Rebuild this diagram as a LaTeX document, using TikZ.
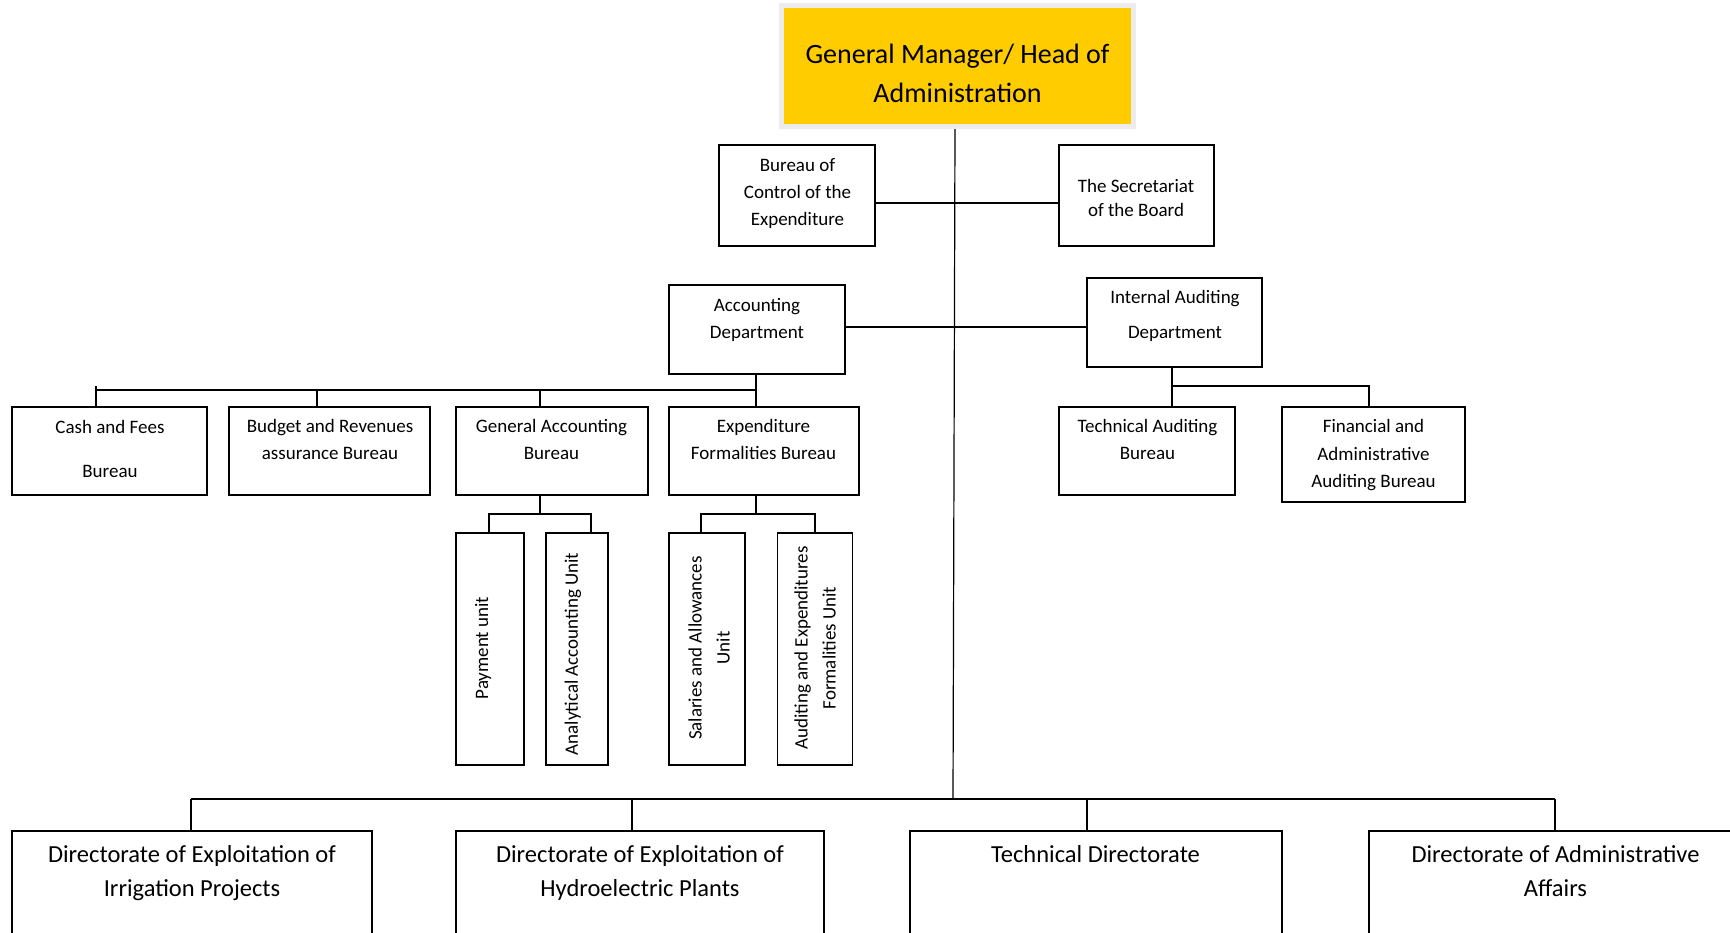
\documentclass[tikz,border=0pt]{standalone}
\usepackage{fontspec}
\setmainfont{Carlito}
\definecolor{gmyellow}{RGB}{255,204,0}
\definecolor{gmframe}{RGB}{236,236,236}
\begin{document}
\begin{tikzpicture}[x=1pt,y=-1pt,
  box/.style={draw=black, line width=1.2pt, inner sep=0pt},
  conn/.style={draw=black, line width=1.2pt},
  txt/.style={align=center, inner sep=0pt, text=black},
  ttop/.style={txt, font=\fontsize{28}{39}\selectfont},
  tmid/.style={txt, font=\fontsize{19}{27}\selectfont},
  tbig/.style={txt, font=\fontsize{24.5}{34}\selectfont}]
\fill[white] (0,0) rectangle (1730,932);
\clip (0,0) rectangle (1730,932);

% ---- top
\node[fill=gmframe, inner sep=0pt, minimum width=357pt, minimum height=126pt] (gmf) at (957.5,66) {};
\node[fill=gmyellow, inner sep=0pt, minimum width=347pt, minimum height=116pt] (gm) at (957.5,66) {};
\node[ttop] (gmt) at (957.5,75.5) {\strut General Manager/ Head of\\Administration\strut};

% ---- second level
\node[box, minimum width=156pt, minimum height=101pt] (boc) at (797,195.5) {};
\node[tmid] (boct) at (797.5,193) {\strut Bureau of\\Control of the\\Expenditure\strut};
\node[box, minimum width=155pt, minimum height=101pt] (sec) at (1136.5,195.5) {};
\node[txt, font=\fontsize{19}{24}\selectfont] (sect) at (1136,199.5) {\strut The Secretariat\\of the Board\strut};

\node[box, minimum width=176pt, minimum height=89pt] (acc) at (757,329.5) {};
\node[tmid] (acct) at (757,319.5) {\strut Accounting\\Department\strut};
\node[box, minimum width=175pt, minimum height=89pt] (iad) at (1174.5,322.5) {};
\node[txt, font=\fontsize{19}{35}\selectfont] (iadt) at (1175,313.5) {\strut Internal Auditing\\Department\strut};

% ---- bureaus
\node[box, minimum width=195pt, minimum height=88pt] (cash) at (109.5,451) {};
\node[txt, font=\fontsize{19}{44}\selectfont] (casht) at (110,447) {\strut Cash and Fees\\Bureau\strut};
\node[box, minimum width=201pt, minimum height=88pt] (bud) at (329.5,451) {};
\node[tmid] (budt) at (330,440.5) {\strut Budget and Revenues\\assurance Bureau\strut};
\node[box, minimum width=192pt, minimum height=88pt] (gab) at (552,451) {};
\node[tmid] (gabt) at (551.5,440.5) {\strut General Accounting\\Bureau\strut};
\node[box, minimum width=190pt, minimum height=88pt] (efb) at (764,451) {};
\node[tmid] (efbt) at (763.5,440.5) {\strut Expenditure\\Formalities Bureau\strut};

\node[box, minimum width=176pt, minimum height=88pt] (tab) at (1147,451) {};
\node[tmid] (tabt) at (1147.5,440.5) {\strut Technical Auditing\\Bureau\strut};
\node[box, minimum width=183pt, minimum height=95pt] (fab) at (1373.5,454.5) {};
\node[txt, font=\fontsize{19}{27.5}\selectfont] (fabt) at (1373.5,454.5) {\strut Financial and\\Administrative\\Auditing Bureau\strut};

% ---- units
\node[box, minimum width=68pt, minimum height=232pt] (pay) at (490,649) {};
\node[tmid, rotate=90] (payt) at (483,648) {Payment unit};
\node[box, minimum width=62pt, minimum height=232pt] (ana) at (577,649) {};
\node[tmid, rotate=90] (anat) at (573,654) {Analytical Accounting Unit};
\node[box, minimum width=76pt, minimum height=232pt] (sal) at (707,649) {};
\node[txt, rotate=90, font=\fontsize{19}{28}\selectfont] (salt) at (710,648) {\strut Salaries and Allowances\\Unit\strut};
\node[box, minimum width=75pt, minimum height=232pt] (aef) at (815,649) {};
\node[txt, rotate=90, font=\fontsize{19}{28}\selectfont] (aeft) at (816,648) {\strut Auditing and Expenditures\\Formalities Unit\strut};

% ---- directorates
\node[box, minimum width=360pt, minimum height=140pt] (d1) at (192,901) {};
\node[tbig] (d1t) at (192,873) {\strut Directorate of Exploitation of\\Irrigation Projects\strut};
\node[box, minimum width=368pt, minimum height=140pt] (d2) at (640,901) {};
\node[tbig] (d2t) at (640,873) {\strut Directorate of Exploitation of\\Hydroelectric Plants\strut};
\node[box, minimum width=372pt, minimum height=140pt] (d3) at (1096,901) {};
\node[tbig] (d3t) at (1095.5,854) {Technical Directorate};
\node[box, minimum width=391pt, minimum height=140pt] (d4) at (1564.5,901) {};
\node[tbig] (d4t) at (1555.5,873) {\strut Directorate of Administrative\\Affairs\strut};

% ---- trunk
\coordinate (tt) at (955,129);
\coordinate (tb) at (953,799);
\draw[conn] (tt) -- (tb);
\draw[conn] ([yshift=-7.5pt]boc.east) -- ([yshift=-7.5pt]sec.west);
\draw[conn] ([yshift=2.5pt]acc.east) -- ([yshift=-4.5pt]iad.west);

% ---- accounting bus
\coordinate (ab) at (756,390);
\coordinate (a1) at (96,386);
\coordinate (a2) at (317,390);
\coordinate (a3) at (540,390);
\draw[conn] ([xshift=-1pt]acc.south) -- (ab) -- (ab |- efb.north);
\draw[conn] (ab) -- (a1 |- ab);
\draw[conn] (a1) -- (a1 |- cash.north);
\draw[conn] (a2) -- (a2 |- bud.north);
\draw[conn] (a3) -- (a3 |- gab.north);

% ---- general accounting units
\coordinate (gb) at (540,514);
\coordinate (g1) at (489,514);
\coordinate (g2) at (591,514);
\draw[conn] (gb |- gab.south) -- (gb);
\draw[conn] (g1 |- pay.north) -- (g1) -- (g2) -- (g2 |- ana.north);

% ---- expenditure units
\coordinate (eb) at (756,514);
\coordinate (e1) at (701,514);
\coordinate (e2) at (815,514);
\draw[conn] (eb |- efb.south) -- (eb);
\draw[conn] (e1 |- sal.north) -- (e1) -- (e2) -- (e2 |- aef.north);

% ---- internal auditing
\coordinate (ib) at (1172,386);
\coordinate (i2) at (1369,386);
\draw[conn] (ib |- iad.south) -- (ib |- tab.north);
\draw[conn] (ib) -- (i2) -- (i2 |- fab.north);

% ---- directorates bus
\coordinate (b1) at (191,799);
\coordinate (b2) at (632,799);
\coordinate (b3) at (1087,799);
\coordinate (b4) at (1555,799);
\draw[conn] (b1) -- (b4);
\draw[conn] (b1) -- (b1 |- d1.north);
\draw[conn] (b2) -- (b2 |- d2.north);
\draw[conn] (b3) -- (b3 |- d3.north);
\draw[conn] (b4) -- (b4 |- d4.north);
\end{tikzpicture}
\end{document}
